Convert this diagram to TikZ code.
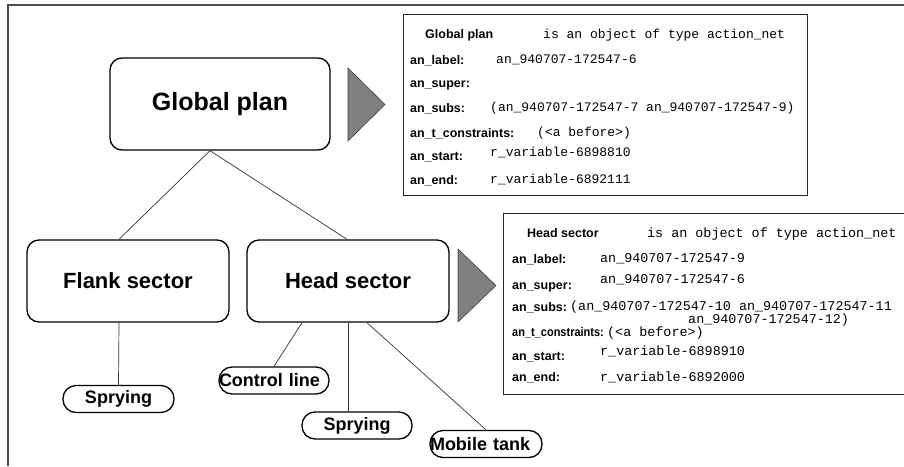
\documentclass[tikz,border=0pt]{standalone}
\usepackage{fontspec}
\setmainfont{Liberation Sans}
\newfontfamily\monofont{Liberation Mono}
\begin{document}
\begin{tikzpicture}[x=1pt, y=-1pt,
  box/.style={draw, rounded corners=12pt, line width=1.3pt, align=center,
    font=\bfseries\fontsize{22}{26}\selectfont},
  pill/.style={draw, rounded corners=13pt, line width=1.3pt, inner xsep=0pt,
    minimum height=27pt, font=\bfseries\fontsize{18}{20}\selectfont},
  link/.style={draw=black!80, line width=0.7pt},
  flag/.style={fill=black!50, draw=black!75, line width=0.6pt},
  panel/.style={draw=black!85, line width=1pt, inner sep=0pt},
  frame/.style={draw=black!70, line width=1.2pt},
  key/.style={anchor=mid west, inner sep=0pt, font=\bfseries\fontsize{12.5}{14}\selectfont},
  valA/.style={anchor=mid west, inner sep=0pt, font=\monofont\fontsize{13}{15}\selectfont},
  valB/.style={anchor=mid west, inner sep=0pt, font=\monofont\fontsize{13.4}{15}\selectfont}]
\useasboundingbox (0,0) rectangle (904,466);

% outer frame (top and left edges)
\draw[frame] (8,466) -- (8,5) -- (904,5);

% hierarchy of plans
\node[box, minimum width=220pt, minimum height=92pt, font=\bfseries\fontsize{25}{30}\selectfont]
  (gp) at (220,104) {Global plan};
\node[box, minimum width=202pt, minimum height=82pt] (flank) at (128,281) {Flank sector};
\node[box, minimum width=202pt, minimum height=82pt] (head) at (348,281) {Head sector};

\node[pill, minimum width=111pt] (spry1) at (118.5,399) {Sprying};
\node[pill, text width=110pt, align=left] (ctrl) at (274,380.5) {Control line};
\node[pill, minimum width=110pt] (spry2) at (357,425.5) {Sprying};
\node[pill, text width=112pt, align=left] (mobile) at (486,444) {Mobile tank};

% tree connectors
\coordinate (gpfoot) at ([xshift=-10pt]gp.south);
\draw[link] (gpfoot) -- ([xshift=-9pt]flank.north);
\draw[link] (gpfoot) -- ([xshift=-1pt]head.north);
\draw[link] ([xshift=-9pt]flank.south) -- (spry1.north);
\draw[link] ([xshift=-46pt]head.south) -- (ctrl.north);
\draw[link] (head.south) -- (head.south |- spry2.north);
\draw[link] ([xshift=19pt]head.south) -- (mobile.north);

% pointers to the object descriptions
\path[flag] (348,68) -- (385,104.5) -- (348,141) -- cycle;
\path[flag] (458,249) -- (496,285.5) -- (458,322) -- cycle;

% description of the global plan
\node[panel, minimum width=404pt, minimum height=181pt] (info1) at (605,104.5) {};
\node[key] at (425,36) {Global plan};
\node[valA] at (543,36) {is an object of type action\_net};
\node[key] at (410,62) {an\_label:};
\node[valA] at (496,61) {an\_940707-172547-6};
\node[key] at (410,85) {an\_super:};
\node[key] at (410,110) {an\_subs:};
\node[valA] at (490,109) {(an\_940707-172547-7 an\_940707-172547-9)};
\node[key] at (410,135) {an\_t\_constraints:};
\node[valA] at (537,134) {(<a before>)};
\node[key] at (410,158) {an\_start:};
\node[valA] at (490,154) {r\_variable-6898810};
\node[key] at (410,182) {an\_end:};
\node[valA] at (490,181) {r\_variable-6892111};

% description of the head sector
\node[panel, minimum width=420pt, minimum height=181pt] (info2) at (713,303.5) {};
\node[key] at (527,235) {Head sector};
\node[valB] at (647,235) {is an object of type action\_net};
\node[key] at (512,261) {an\_label:};
\node[valB] at (600,260) {an\_940707-172547-9};
\node[key] at (512,287) {an\_super:};
\node[valB] at (600,281) {an\_940707-172547-6};
\node[key] at (512,309) {an\_subs:};
\node[valB] at (570,308) {(an\_940707-172547-10 an\_940707-172547-11};
\node[valB] at (688,321) {an\_940707-172547-12)};
\node[key] at (512,334) {\scalebox{0.88}[1]{an\_t\_constraints:}};
\node[valB] at (607,334) {(<a before>)};
\node[key] at (512,358) {an\_start:};
\node[valB] at (600,353) {r\_variable-6898910};
\node[key] at (512,379) {an\_end:};
\node[valB] at (600,379) {r\_variable-6892000};
\end{tikzpicture}
\end{document}
